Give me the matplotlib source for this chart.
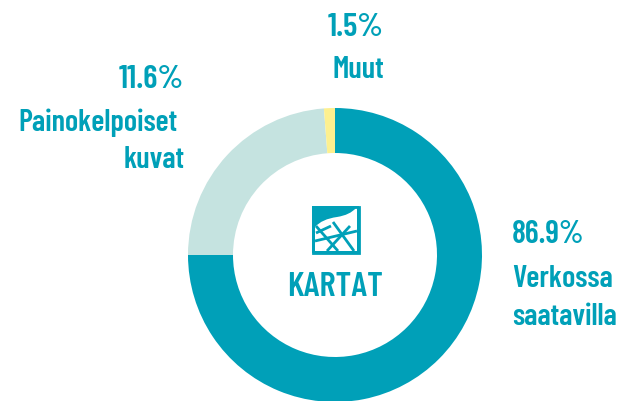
import matplotlib
matplotlib.use('Agg')
import matplotlib.pyplot as plt
from matplotlib.patches import PathPatch, Rectangle
from matplotlib.path import Path

# shares as drawn in the picture, the printed labels differ from them
shares = [75.0, 23.8, 1.2]
colors = ['#00a0b8', '#c5e3e0', '#fdf08f']
pct_labels = ['86.9%', '11.6%', '1.5%']
name_lines = ['Verkossa', 'saatavilla', 'Painokelpoiset', 'kuvat', 'Muut']
center_label = 'KARTAT'
teal = '#00a0b8'
W, H = 621, 401

plt.rcParams['font.family'] = ['Barlow Condensed', 'Roboto', 'DejaVu Sans']

fig = plt.figure(figsize=(W / 100, H / 100), dpi=100)
ax = fig.add_axes([0, 0, 1, 1])

ax.pie(shares, colors=colors, startangle=90, counterclock=False,
       center=(335, H - 255), radius=147, frame=True,
       wedgeprops={'width': 45, 'linewidth': 0})
ax.set_xlim(0, W)
ax.set_ylim(0, H)
ax.set_aspect('equal')
ax.axis('off')


def label(x, y, s, ha, size=22):
    ax.text(x, H - y, s, ha=ha, va='baseline', color=teal, fontsize=size,
            fontweight='semibold')


label(512, 243, pct_labels[0], 'left', size=23)
label(512, 287, name_lines[0], 'left')
label(512, 325, name_lines[1], 'left')
label(184, 88, pct_labels[1], 'right', size=24)
label(178, 131, name_lines[2], 'right')
label(185, 168, name_lines[3], 'right')
label(384, 36, pct_labels[2], 'right', size=24)
label(384, 78, name_lines[4], 'right')
label(335, 296, center_label, 'center', size=25)


# small map icon, pixel coordinates of the reference
def py(pts):
    return [(x, H - y) for x, y in pts]


ax.add_patch(Rectangle((312, H - 253), 47, 47, fc=teal, ec='none', zorder=5))
verts = py([(315, 227), (322, 219), (337, 217), (350, 215), (356, 208),
            (357, 208), (357, 251), (315, 251), (315, 227)])
codes = [Path.MOVETO, Path.CURVE3, Path.CURVE3, Path.CURVE3, Path.CURVE3,
         Path.LINETO, Path.LINETO, Path.LINETO, Path.CLOSEPOLY]
ax.add_patch(PathPatch(Path(verts, codes), fc='white', ec='none', zorder=6))
for a, b in [((316, 226), (338, 251)), ((333, 222), (354, 251)),
             ((315, 241), (357, 231)), ((327, 251), (350, 226)),
             ((316, 233), (331, 226))]:
    (x0, y0), (x1, y1) = py([a, b])
    ax.plot([x0, x1], [y0, y1], color=teal, lw=2, zorder=7, solid_capstyle='butt')
ax.add_patch(Rectangle((312.5, H - 252.5), 46, 46, fc='none', ec=teal, lw=2, zorder=8))

fig.savefig('out.png', dpi=100)
